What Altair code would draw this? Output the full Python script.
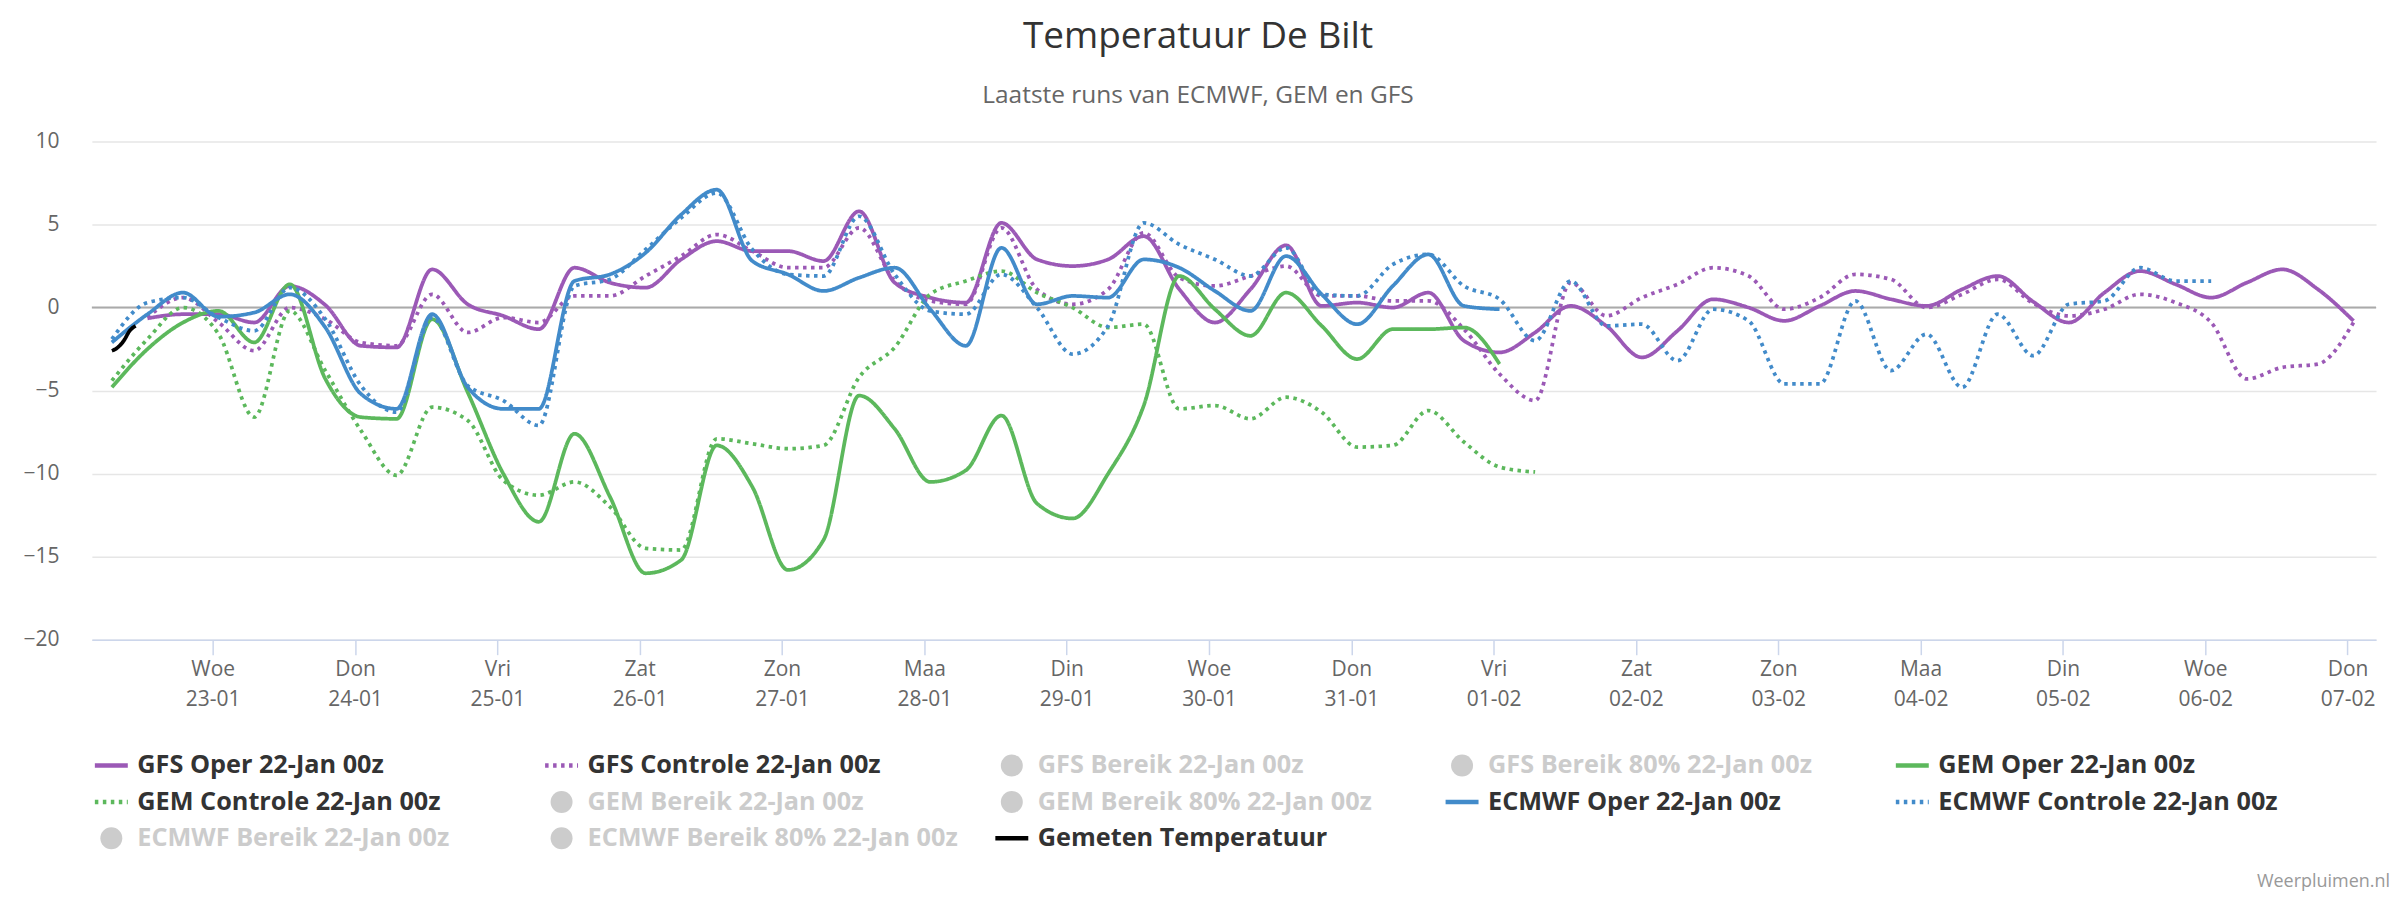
import json
import altair as alt
import pandas as pd

# ---------------- categories / labels ----------------
SERIES = [
    "GFS Oper 22-Jan 00z", "GFS Controle 22-Jan 00z", "GFS Bereik 22-Jan 00z",
    "GFS Bereik 80% 22-Jan 00z", "GEM Oper 22-Jan 00z",
    "GEM Controle 22-Jan 00z", "GEM Bereik 22-Jan 00z", "GEM Bereik 80% 22-Jan 00z",
    "ECMWF Oper 22-Jan 00z", "ECMWF Controle 22-Jan 00z",
    "ECMWF Bereik 22-Jan 00z", "ECMWF Bereik 80% 22-Jan 00z", "Gemeten Temperatuur",
]
HIDDEN = [s for s in SERIES if "Bereik" in s]
COLORS = ["#9b59b6", "#9b59b6", "#cccccc", "#cccccc", "#5cb85c",
          "#5cb85c", "#cccccc", "#cccccc", "#428bca", "#428bca",
          "#cccccc", "#cccccc", "#000000"]
SOLID = [1, 0]
DOT = [3.5, 4.5]
DASHES = [SOLID, DOT, SOLID, SOLID, SOLID, DOT, SOLID, SOLID, SOLID, DOT, SOLID, SOLID, SOLID]

DAY_NAMES = ["Woe", "Don", "Vri", "Zat", "Zon", "Maa", "Din", "Woe",
             "Don", "Vri", "Zat", "Zon", "Maa", "Din", "Woe", "Don"]
DAY_DATES = ["23-01", "24-01", "25-01", "26-01", "27-01", "28-01", "29-01", "30-01",
             "31-01", "01-02", "02-02", "03-02", "04-02", "05-02", "06-02", "07-02"]
Y_TICKS = [-20, -15, -10, -5, 0, 5, 10]

# ---------------- series values (6-hourly) ----------------
GFS_OPER = [-0.65, -0.4, -0.4, -0.9, 1.3, 0.15, -2.3, -2.4, 2.3, 0.2,
            -0.5, -1.3, 2.4, 1.5, 1.2, 2.9, 4.0, 3.4, 3.4, 2.8,
            5.8, 1.5, 0.6, 0.3, 5.1, 2.9, 2.5, 2.9, 4.3, 1.1,
            -0.9, 1.1, 3.75, 0.1, 0.3, 0.0, 0.9, -2.0, -2.7, -1.5,
            0.1, -1.1, -3.0, -1.4, 0.5, 0.0, -0.8, 0.1, 1.0, 0.5,
            0.1, 1.1, 1.9, 0.35, -0.9, 0.9, 2.2, 1.4, 0.6, 1.5,
            2.3, 1.1, -0.8]
GFS_CTRL = [-0.6, 0.6, -0.9, -2.6, 0.0, -0.7, -2.1, -2.3, 0.8, -1.5,
            -0.6, -0.9, 0.7, 0.7, 1.9, 3.1, 4.4, 3.4, 2.4, 2.4,
            4.8, 1.6, 0.4, 0.2, 4.8, 1.1, 0.2, 1.1, 4.5, 1.8,
            1.3, 1.9, 2.5, 0.7, 0.7, 0.4, 0.4, -1.3, -4.0, -5.6,
            1.5, -0.5, 0.6, 1.4, 2.4, 1.9, -0.1, 0.6, 2.0, 1.7,
            0.0, 0.8, 1.7, 0.25, -0.5, -0.1, 0.8, 0.3, -0.9, -4.3,
            -3.6, -3.4, -0.9]
GEM_OPER = [-4.8, -2.5, -0.9, -0.2, -2.1, 1.4, -4.3, -6.6, -6.7, -0.7,
            -5.1, -10.0, -12.9, -7.6, -11.4, -16.0, -15.2, -8.3, -10.8, -15.8,
            -14.0, -5.3, -7.3, -10.5, -9.8, -6.5, -11.8, -12.7, -10.0, -5.9,
            1.9, -0.1, -1.7, 0.9, -1.1, -3.1, -1.3, -1.3, -1.2, -3.4]
GEM_CTRL = [-4.4, -1.9, 0.0, -1.6, -6.6, -0.2, -3.8, -7.4, -10.1, -6.0,
            -6.8, -10.4, -11.3, -10.5, -12.0, -14.5, -14.6, -7.9, -8.2, -8.5,
            -8.3, -4.2, -2.4, 0.8, 1.6, 2.2, 0.9, 0.0, -1.2, -1.0,
            -6.1, -5.9, -6.7, -5.4, -6.3, -8.4, -8.3, -6.2, -8.1, -9.6,
            -9.9]
ECMWF_OPER = [-2.1, -0.4, 0.9, -0.55, -0.3, 0.8, -1.2, -5.2, -6.1, -0.4,
              -4.8, -6.1, -6.1, 1.6, 2.0, 3.3, 5.6, 7.1, 2.8, 2.0,
              1.0, 1.8, 2.4, -0.1, -2.3, 3.6, 0.2, 0.7, 0.6, 2.9,
              2.4, 1.0, -0.2, 3.1, 0.8, -1.0, 1.3, 3.2, 0.1, -0.1]
ECMWF_CTRL = [-1.9, 0.3, 0.6, -0.6, -1.4, 1.2, -0.7, -4.7, -6.3, -0.6,
              -4.7, -5.6, -7.1, 1.3, 1.7, 3.5, 5.4, 6.9, 3.5, 2.0,
              1.9, 5.5, 2.0, -0.2, -0.4, 2.0, 0.0, -2.8, -1.1, 5.1,
              3.8, 2.9, 1.9, 3.6, 0.8, 0.7, 2.6, 3.2, 1.3, 0.5,
              -2.0, 1.6, -1.1, -1.0, -3.2, -0.1, -0.8, -4.6, -4.6, 0.4,
              -3.8, -1.6, -4.8, -0.4, -2.9, 0.2, 0.4, 2.4, 1.6, 1.6]
MEASURED = [-2.6, -2.4, -2.0, -1.4, -1.1]  # hourly

REF = pd.Timestamp("2019-01-23 00:00")


def frame(name, start, values, step="6h"):
    t = pd.date_range(start=start, periods=len(values), freq=step)
    d = (t - REF) / pd.Timedelta(days=1)
    return pd.DataFrame({"d": list(d), "temp": values, "series": name})


LAYERS = [
    frame(SERIES[0], "2019-01-22 13:00", GFS_OPER),
    frame(SERIES[1], "2019-01-22 13:00", GFS_CTRL),
    frame(SERIES[4], "2019-01-22 07:00", GEM_OPER),
    frame(SERIES[5], "2019-01-22 07:00", GEM_CTRL),
    frame(SERIES[8], "2019-01-22 07:00", ECMWF_OPER),
    frame(SERIES[9], "2019-01-22 07:00", ECMWF_CTRL),
    frame(SERIES[12], "2019-01-22 07:00", MEASURED, step="1h"),
]

FONT = "Open Sans"
W, H = 2288, 499
NCOL = 5

LABEL_EXPR = f"[{json.dumps(DAY_NAMES)}[datum.value], {json.dumps(DAY_DATES)}[datum.value]]"

X = alt.X("d:Q", scale=alt.Scale(domain=[-0.849, 15.2], nice=False, zero=False),
          axis=alt.Axis(values=list(range(len(DAY_NAMES))), labelExpr=LABEL_EXPR,
                        title=None, grid=False, domainColor="#ccd6eb", domainWidth=1.5,
                        tickColor="#ccd6eb", tickWidth=1.5, tickSize=15,
                        labelFont=FONT, labelFontSize=21, labelColor="#666666",
                        labelPadding=4, labelLineHeight=30, labelBaseline="top",
                        labelAlign="center", labelFlush=False, labelOverlap=False,
                        zindex=1))
Y = alt.Y("temp:Q", scale=alt.Scale(domain=[-20, 10], nice=False, zero=False),
          axis=alt.Axis(values=Y_TICKS, title=None, ticks=False, domain=False,
                        grid=True, gridColor="#e6e6e6", gridWidth=1.5,
                        labelFont=FONT, labelFontSize=21, labelColor="#666666",
                        labelPadding=33))
COLOR = alt.Color("series:N", scale=alt.Scale(domain=SERIES, range=COLORS), legend=None)
DASH = alt.StrokeDash("series:N", scale=alt.Scale(domain=SERIES, range=DASHES), legend=None)

zero = alt.Chart(pd.DataFrame({"temp": [0]})).mark_rule(
    color="#aaaaaa", strokeWidth=2).encode(y=alt.Y("temp:Q", scale=alt.Scale(domain=[-20, 10])))

lines = [
    alt.Chart(df).mark_line(interpolate="monotone", strokeWidth=3.75,
                            strokeCap="butt").encode(x=X, y=Y, color=COLOR, strokeDash=DASH)
    for df in LAYERS
]
main = alt.layer(zero, *lines)

# ---------------- hand-built legend (Highcharts style) ----------------
leg = pd.DataFrame({
    "series": SERIES,
    "col": [i % NCOL for i in range(len(SERIES))],
    "row": [i // NCOL for i in range(len(SERIES))],
    "hidden": [s in HIDDEN for s in SERIES],
})
LX = alt.X("col:Q", scale=alt.Scale(domain=[0, NCOL], range=[19.5, 19.5 + NCOL * 451]), axis=None)
LY = alt.Y("row:Q", scale=alt.Scale(domain=[0, 2], range=[625, 698]), axis=None)
LCOLOR = alt.Color("series:N", scale=alt.Scale(domain=SERIES, range=COLORS), legend=None)

leg_lines = alt.Chart(leg).transform_filter("!datum.hidden").mark_point(
    shape="stroke", size=1089, strokeWidth=4.5, filled=False, opacity=1
).encode(x=LX, y=LY, color=LCOLOR, strokeDash=DASH)
leg_dots = alt.Chart(leg).transform_filter("datum.hidden").mark_point(
    shape="circle", size=484, filled=True, color="#cccccc", opacity=1
).encode(x=LX, y=LY)
leg_text = alt.Chart(leg).mark_text(
    align="left", baseline="middle", dx=26, font=FONT, fontSize=25.3, fontWeight="bold"
).encode(x=LX, y=LY, text="series:N",
         color=alt.condition("datum.hidden", alt.value("#cccccc"), alt.value("#333333")))
credit = alt.Chart(pd.DataFrame({"t": ["Weerpluimen.nl"]})).mark_text(
    align="right", baseline="middle", font=FONT, fontSize=18, color="#999999"
).encode(text="t:N", x=alt.value(2302), y=alt.value(742))

legend = alt.layer(leg_lines, leg_dots, leg_text, credit)

chart = alt.layer(main, legend).resolve_scale(
    x="independent", y="independent", color="independent", strokeDash="independent"
).properties(
    width=W, height=H,
    title=alt.TitleParams(
        text="Temperatuur De Bilt", subtitle="Laatste runs van ECMWF, GEM en GFS",
        anchor="middle", frame="group", dx=-36, offset=22,
        font=FONT, fontSize=37, fontWeight="normal", color="#333333",
        subtitleFont=FONT, subtitleFontSize=24.5, subtitleColor="#666666",
        subtitlePadding=28),
    autosize=alt.AutoSizeParams(type="none"),
    padding={"left": 84, "top": 133, "right": 16, "bottom": 258},
).configure_view(stroke=None)

chart.save("out.html", embed_options={"renderer": "svg", "actions": False})
